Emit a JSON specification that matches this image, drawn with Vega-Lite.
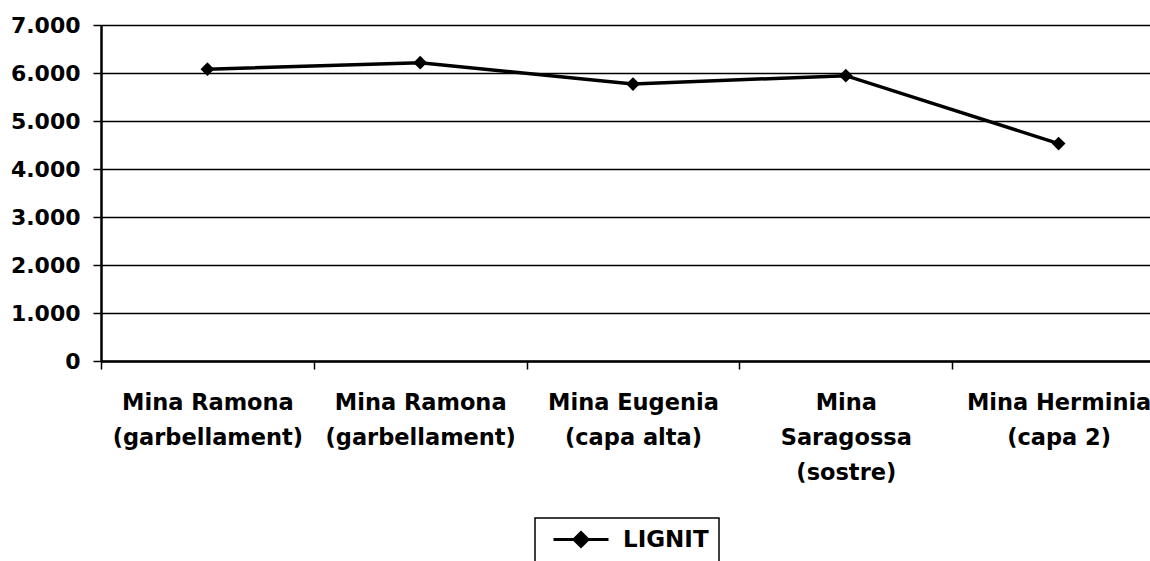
{
  "$schema": "https://vega.github.io/schema/vega-lite/v6.json",
  "width": 1049,
  "height": 336,
  "autosize": {"type": "none"},
  "padding": {"left": 101, "top": 25, "right": 0, "bottom": 200},
  "background": "white",
  "data": {
    "values": [
      {"mina": "1|Mina Ramona|(garbellament)", "serie": "LIGNIT", "valor": 6080},
      {"mina": "2|Mina Ramona|(garbellament)", "serie": "LIGNIT", "valor": 6215},
      {"mina": "3|Mina Eugenia|(capa alta)", "serie": "LIGNIT", "valor": 5770},
      {"mina": "4|Mina|Saragossa|(sostre)", "serie": "LIGNIT", "valor": 5945},
      {"mina": "5|Mina Herminia|(capa 2)", "serie": "LIGNIT", "valor": 4530}
    ]
  },
  "encoding": {
    "x": {
      "field": "mina",
      "type": "ordinal",
      "sort": null,
      "scale": {"type": "band", "paddingInner": 0, "paddingOuter": 0, "range": [0, 1064]},
      "axis": {
        "title": null,
        "labelExpr": "slice(split(datum.label, '|'), 1)",
        "labelAngle": 0,
        "labelBaseline": "top",
        "labelLineHeight": 35,
        "labelPadding": 22,
        "labelFont": "DejaVu Sans",
        "labelFontWeight": "bold",
        "labelFontSize": 22.5,
        "labelColor": "black",
        "labelLimit": 400,
        "tickBand": "extent",
        "tickSize": 8,
        "tickWidth": 1.5,
        "tickColor": "black",
        "domainColor": "black",
        "domainWidth": 2.5,
        "grid": false
      }
    },
    "y": {
      "field": "valor",
      "type": "quantitative",
      "scale": {"domain": [0, 7000], "nice": false},
      "axis": {
        "title": null,
        "values": [0, 1000, 2000, 3000, 4000, 5000, 6000, 7000],
        "labelExpr": "replace(format(datum.value, ','), ',', '.')",
        "labelFont": "DejaVu Sans",
        "labelFontWeight": "bold",
        "labelFontSize": 22,
        "labelColor": "black",
        "labelPadding": 13,
        "tickSize": 8,
        "tickWidth": 1.5,
        "tickColor": "black",
        "domainColor": "black",
        "domainWidth": 2.5,
        "grid": true,
        "gridColor": "black",
        "gridWidth": 1.4
      }
    },
    "color": {
      "field": "serie",
      "type": "nominal",
      "scale": {"range": ["black"]},
      "legend": {
        "title": null,
        "orient": "none",
        "legendX": 434,
        "legendY": 493,
        "padding": 10,
        "strokeColor": "black",
        "fillColor": "white",
        "symbolType": "M-0.3,0L5.2,0M2.45,-0.7L3.15,0L2.45,0.7L1.75,0Z",
        "symbolSize": 400,
        "symbolStrokeWidth": 3,
        "symbolFillColor": "black",
        "symbolStrokeColor": "black",
        "labelOffset": 55,
        "labelFont": "DejaVu Sans",
        "labelFontWeight": "bold",
        "labelFontSize": 23,
        "labelColor": "black",
        "encode": {
          "legend": {"update": {"strokeWidth": {"value": 1.5}}}
        }
      }
    }
  },
  "layer": [
    {"mark": {"type": "line", "strokeWidth": 3.5}},
    {"mark": {"type": "point", "shape": "diamond", "filled": true, "size": 190, "opacity": 1}}
  ],
  "config": {
    "view": {"stroke": null}
  }
}
